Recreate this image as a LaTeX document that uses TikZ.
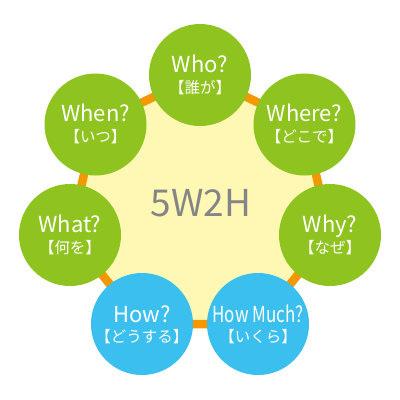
\documentclass[tikz,border=0pt]{standalone}
\usepackage{fontspec}
\usepackage{graphicx}
\setmainfont{Noto Sans CJK JP}
\usetikzlibrary{backgrounds}
\definecolor{grc}{HTML}{8FC31F}
\definecolor{bluc}{HTML}{3BBFEE}
\definecolor{orc}{HTML}{F39800}
\definecolor{yelc}{HTML}{FFF8B4}
\definecolor{grayc}{HTML}{858585}
\begin{document}
\begin{tikzpicture}[x=1pt,y=-1pt,
  bubble/.style={circle, minimum size=102pt, inner sep=0pt},
  grn/.style={bubble, fill=grc},
  blu/.style={bubble, fill=bluc},
  en/.style={text=white, font=\fontsize{22}{22}\selectfont, anchor=base, inner sep=0pt},
  ja/.style={text=white, font=\fontsize{15.5}{15.5}\selectfont, anchor=base, inner sep=0pt},
  link/.style={draw=orc, line width=8.5pt}]
\useasboundingbox (0,0) rectangle (400,400);

\node[grn] (who)   at (200,75)    {};
\node[grn] (where) at (304.5,124.5) {};
\node[grn] (why)   at (330,235)   {};
\node[blu] (much)  at (258,324)   {};
\node[blu] (how)   at (142,324)   {};
\node[grn] (what)  at (70,235)    {};
\node[grn] (when)  at (95.5,124.5) {};

\node[en] (whoE)   at (200,72)    {Who?};
\node[ja] (whoJ)   at (200,93)    {【誰が】};
\node[en] (whereE) at (304.5,121.5) {Where?};
\node[ja] (whereJ) at (304.5,142.5) {【どこで】};
\node[en] (whyE)   at (330,232)   {Why?};
\node[ja] (whyJ)   at (330,253)   {【なぜ】};
\node[en] (muchE)  at (258,322)   {\scalebox{0.77}[1]{How Much?}};
\node[ja] (muchJ)  at (258,342.5) {【いくら】};
\node[en] (howE)   at (142,322)   {How?};
\node[ja] (howJ)   at (142,342.5) {【どうする】};
\node[en] (whatE)  at (70,232)    {What?};
\node[ja] (whatJ)  at (70,253)    {【何を】};
\node[en] (whenE)  at (95.5,121.5) {When?};
\node[ja] (whenJ)  at (95.5,142.5) {【いつ】};

\node[text=grayc, font=\fontsize{37}{37}\selectfont, inner sep=0pt] (title) at (201,203) {5W2H};

\begin{scope}[on background layer]
  \fill[yelc] (who.center) -- (where.center) -- (why.center) -- (much.center)
    -- (how.center) -- (what.center) -- (when.center) -- cycle;
  \draw[link] (who.center) -- (where.center) -- (why.center) -- (much.center)
    -- (how.center) -- (what.center) -- (when.center) -- cycle;
\end{scope}
\end{tikzpicture}
\end{document}
